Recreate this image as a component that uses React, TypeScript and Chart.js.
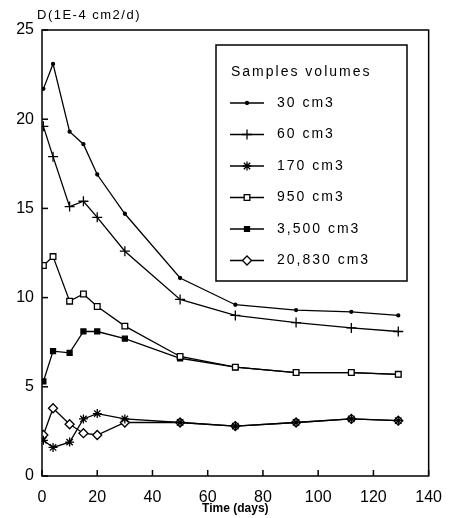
import React, { useEffect, useRef } from 'react';
import { Chart, registerables } from 'chart.js';
import { drawPoint } from 'chart.js/helpers';

Chart.register(...registerables);

const days = [0.5, 4, 10, 15, 20, 30, 50, 70, 92, 112, 129];
const s30 = [21.7, 23.1, 19.3, 18.6, 16.9, 14.7, 11.1, 9.6, 9.3, 9.2, 9.0];
const s60 = [19.6, 17.9, 15.1, 15.4, 14.5, 12.6, 9.9, 9.0, 8.6, 8.3, 8.1];
const s170 = [2.0, 1.6, 1.9, 3.2, 3.5, 3.2, 3.0, 2.8, 3.0, 3.2, 3.1];
const s950 = [11.8, 12.3, 9.8, 10.2, 9.5, 8.4, 6.7, 6.1, 5.8, 5.8, 5.7];
const s3500 = [5.3, 7.0, 6.9, 8.1, 8.1, 7.7, 6.6, 6.1, 5.8, 5.8, 5.7];
const s20830 = [2.3, 3.8, 2.9, 2.4, 2.3, 3.0, 3.0, 2.8, 3.0, 3.2, 3.1];

const seriesLabels = ['30 cm3', '60 cm3', '170 cm3', '950 cm3', '3,500 cm3', '20,830 cm3'];
const seriesValues = [s30, s60, s170, s950, s3500, s20830];
const pointStyles = ['circle', 'cross', 'star', 'rect', 'rect', 'rectRot'];
const pointRadii = [1.5, 5, 4.5, 4, 3.5, 4.5];
const pointFills = ['#000', '#000', '#000', '#fff', '#000', '#fff'];

const legendTitle = 'Samples volumes';
const yTitle = 'D(1E-4 cm2/d)';
const xTitle = 'Time (days)';

const framePlugin = {
  id: 'frame',
  afterDraw(chart: any) {
    const ctx = chart.ctx;
    const { left, right, top, bottom } = chart.chartArea;
    ctx.save();
    ctx.strokeStyle = '#000';
    ctx.lineWidth = 1.5;
    ctx.strokeRect(left, top, right - left, bottom - top);
    const ys = chart.scales.y;
    ys.ticks.forEach((t: any) => {
      const py = ys.getPixelForValue(t.value);
      ctx.beginPath();
      ctx.moveTo(left, py);
      ctx.lineTo(left + 6, py);
      ctx.stroke();
    });
    const xs = chart.scales.x;
    xs.ticks.forEach((t: any) => {
      const px = xs.getPixelForValue(t.value);
      ctx.beginPath();
      ctx.moveTo(px, bottom);
      ctx.lineTo(px, bottom - 6);
      ctx.stroke();
    });
    // y title
    ctx.fillStyle = '#000';
    ctx.font = '13px "Liberation Sans", Arial, sans-serif';
    (ctx as any).letterSpacing = '1.5px';
    ctx.textBaseline = 'middle';
    ctx.textAlign = 'left';
    ctx.fillText(yTitle, 37, 15);

    // legend
    const bx = 216, by = 45, bw = 191, bh = 236;
    ctx.fillStyle = '#fff';
    ctx.fillRect(bx, by, bw, bh);
    ctx.strokeStyle = '#000';
    ctx.lineWidth = 1.5;
    ctx.strokeRect(bx, by, bw, bh);
    ctx.fillStyle = '#000';
    ctx.font = '14px "Liberation Sans", Arial, sans-serif';
    (ctx as any).letterSpacing = '2px';
    ctx.fillText(legendTitle, 231, 72);
    seriesLabels.forEach((lab, i) => {
      const cy = 103 + i * 31.5;
      ctx.beginPath();
      ctx.lineWidth = 1.3;
      ctx.moveTo(230, cy);
      ctx.lineTo(264, cy);
      ctx.stroke();
      ctx.fillStyle = pointFills[i];
      ctx.strokeStyle = '#000';
      drawPoint(ctx, { pointStyle: pointStyles[i], radius: pointRadii[i], borderWidth: 1.3, rotation: 0 } as any, 247, cy);
      ctx.fillStyle = '#000';
      ctx.fillText(lab, 277, cy);
    });
    (ctx as any).letterSpacing = '0px';
    ctx.restore();
  },
};

export default function App() {
  const ref = useRef<HTMLCanvasElement>(null);
  useEffect(() => {
    document.body.style.margin = '0';
    const chart = new Chart(ref.current as HTMLCanvasElement, {
      type: 'line',
      data: {
        datasets: seriesValues.map((vals, i) => ({
          label: seriesLabels[i],
          data: vals.map((v, j) => ({ x: days[j], y: v })),
          borderColor: '#000',
          borderWidth: 1.3,
          pointStyle: pointStyles[i] as any,
          pointRadius: pointRadii[i],
          pointBackgroundColor: pointFills[i],
          pointBorderColor: '#000',
          pointBorderWidth: 1.3,
          tension: 0,
          fill: false,
        })),
      },
      options: {
        animation: false,
        responsive: true,
        maintainAspectRatio: false,
        layout: { padding: { left: 0, right: 14, top: 30, bottom: 0 } },
        plugins: { legend: { display: false }, tooltip: { enabled: false } },
        scales: {
          x: {
            type: 'linear',
            min: 0,
            max: 140,
            grid: { display: false, drawTicks: false },
            border: { display: false },
            ticks: {
              stepSize: 20,
              padding: 12,
              color: '#000',
              font: { family: '"Liberation Sans", Arial, sans-serif', size: 16 },
            },
            title: {
              display: true,
              text: xTitle,
              color: '#000',
              font: { family: '"Liberation Sans", Arial, sans-serif', size: 12, weight: 'bold' },
              padding: { top: 0, bottom: 2 },
            },
            afterFit: (s: any) => { s.height = 42; },
          },
          y: {
            type: 'linear',
            min: 0,
            max: 25,
            grid: { display: false, drawTicks: false },
            border: { display: false },
            ticks: {
              stepSize: 5,
              padding: 8,
              color: '#000',
              font: { family: '"Liberation Sans", Arial, sans-serif', size: 16 },
            },
            afterFit: (s: any) => { s.width = 42; },
          },
        },
      },
      plugins: [framePlugin],
    });
    return () => chart.destroy();
  }, []);
  return (
    <div style={{ width: 454, height: 518, position: 'relative' }}>
      <canvas ref={ref} />
    </div>
  );
}
